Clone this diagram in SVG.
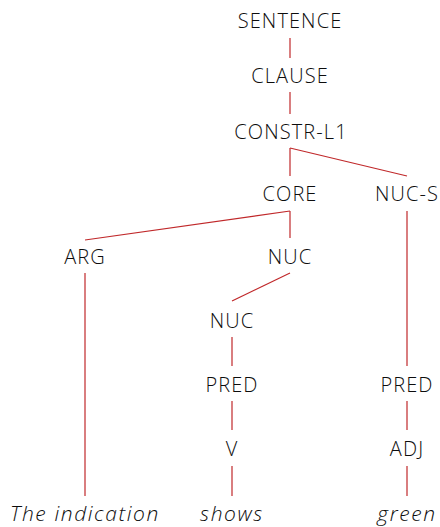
<svg xmlns="http://www.w3.org/2000/svg" width="440" height="527" viewBox="0 0 440 527">
<style>
text{font-family:"Open Sans","Noto Sans",sans-serif;font-size:20px;fill:#0d0d0d;text-anchor:middle;font-weight:300;letter-spacing:1.1px}
.w{font-style:italic;font-size:21px;letter-spacing:1.6px}
line{stroke:#c0282a;stroke-width:1.2}
</style>
<rect width="440" height="527" fill="#fff"/>
<g id="connectors">
<line x1="290" y1="38" x2="290" y2="58"/>
<line x1="290" y1="92" x2="290" y2="114"/>
<line x1="290" y1="148" x2="290" y2="176"/>
<line x1="290" y1="148" x2="407" y2="176"/>
<line x1="290" y1="211" x2="290" y2="238"/>
<line x1="290" y1="211" x2="85" y2="240"/>
<line x1="407" y1="211" x2="407" y2="366"/>
<line x1="290" y1="273" x2="232" y2="301"/>
<line x1="85" y1="273" x2="85" y2="496"/>
<line x1="232" y1="337" x2="232" y2="366"/>
<line x1="232" y1="401" x2="232" y2="430"/>
<line x1="232" y1="466" x2="232" y2="496"/>
<line x1="407" y1="401" x2="407" y2="430"/>
<line x1="407" y1="466" x2="407" y2="496"/>
</g>
<g id="sentence"><text x="290" y="28">SENTENCE</text></g>
<g id="clause"><text x="290" y="83">CLAUSE</text></g>
<g id="constr"><text x="291" y="139">CONSTR-L1</text></g>
<g id="core"><text x="290" y="201">CORE</text></g>
<g id="nucs"><text x="407" y="201">NUC-S</text></g>
<g id="arg"><text x="85" y="264">ARG</text></g>
<g id="nuc1"><text x="290" y="264">NUC</text></g>
<g id="nuc2"><text x="232" y="328">NUC</text></g>
<g id="pred1"><text x="232" y="392">PRED</text></g>
<g id="v"><text x="232" y="456">V</text></g>
<g id="pred2"><text x="407" y="392">PRED</text></g>
<g id="adj"><text x="407" y="456">ADJ</text></g>
<g id="w1"><text class="w" x="85" y="521">The indication</text></g>
<g id="w2"><text class="w" x="232" y="521">shows</text></g>
<g id="w3"><text class="w" x="407" y="521">green</text></g>
</svg>
